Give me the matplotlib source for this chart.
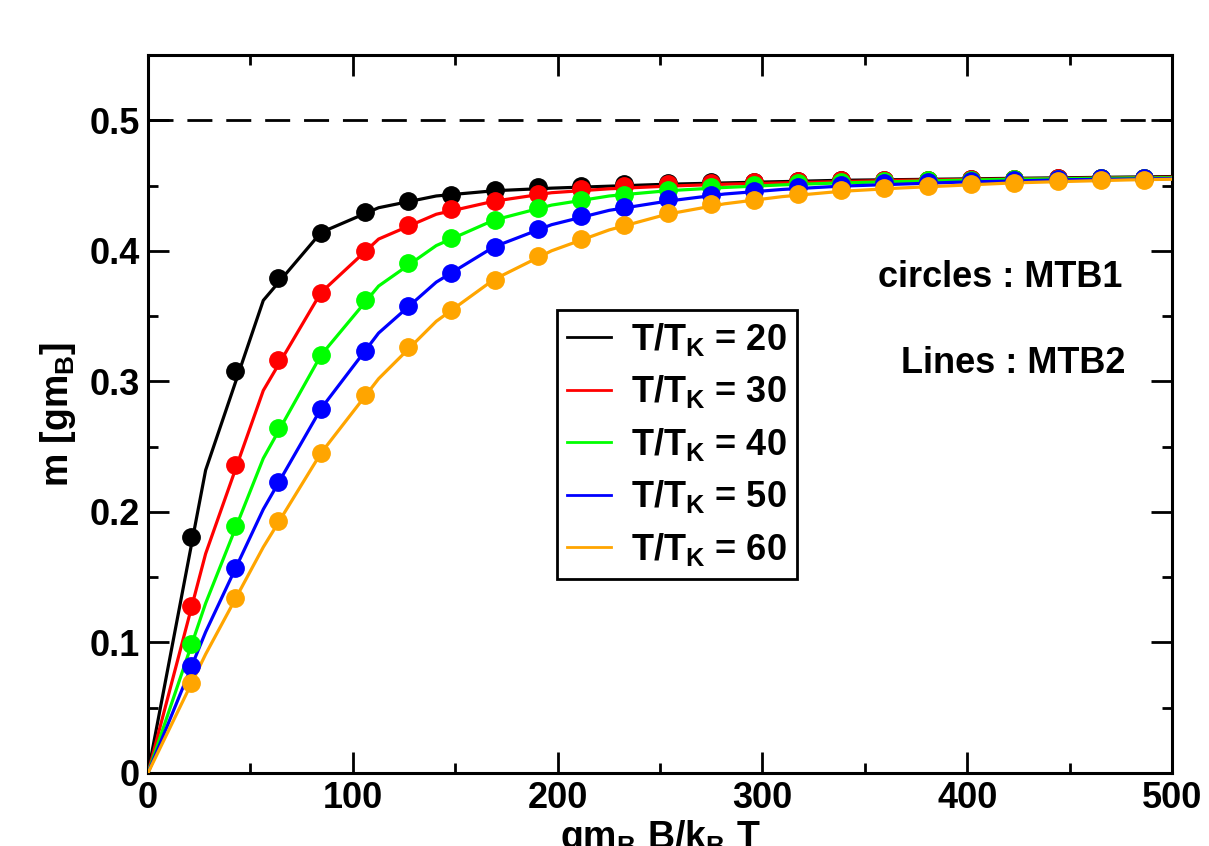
import matplotlib
matplotlib.use("Agg")
import matplotlib.pyplot as plt
from matplotlib.ticker import MultipleLocator

plt.rcParams['font.family'] = ['Liberation Sans', 'DejaVu Sans']
plt.rcParams['font.weight'] = 'bold'
plt.rcParams['mathtext.fontset'] = 'custom'
plt.rcParams['mathtext.rm'] = 'Liberation Sans:bold'
plt.rcParams['mathtext.it'] = 'Liberation Sans:bold'
plt.rcParams['mathtext.bf'] = 'Liberation Sans:bold'
plt.rcParams['mathtext.sf'] = 'Liberation Sans'
plt.rcParams['mathtext.default'] = 'rm'

# ---- data ----
labels = ["T/T$_\\mathrm{K}$ = 20", "T/T$_\\mathrm{K}$ = 30", "T/T$_\\mathrm{K}$ = 40",
          "T/T$_\\mathrm{K}$ = 50", "T/T$_\\mathrm{K}$ = 60"]
colors = ["#000000", "#ff0000", "#00ff00", "#0000ff", "#ffa500"]

# circles : MTB1
x_circ = [21.15, 42.3, 63.45, 84.6, 105.75, 126.9, 148.05, 169.2, 190.35, 211.5, 232.65, 253.8,
          274.95, 296.1, 317.25, 338.4, 359.55, 380.7, 401.85, 423.0, 444.15, 465.3, 486.45]
m_circ_20 = [0.181, 0.308, 0.379, 0.414, 0.430, 0.438, 0.443, 0.4465, 0.4485, 0.450, 0.451, 0.452,
             0.4525, 0.453, 0.4535, 0.454, 0.4543, 0.4546, 0.4549, 0.4552, 0.4555, 0.4558, 0.456]
m_circ_30 = [0.128, 0.236, 0.316, 0.368, 0.400, 0.420, 0.432, 0.438, 0.4435, 0.447, 0.4495, 0.451,
             0.452, 0.4528, 0.4535, 0.454, 0.4543, 0.4546, 0.4549, 0.4552, 0.4555, 0.4558, 0.456]
m_circ_40 = [0.099, 0.189, 0.264, 0.320, 0.362, 0.391, 0.410, 0.4235, 0.4325, 0.439, 0.443, 0.4465,
             0.449, 0.4505, 0.452, 0.453, 0.4537, 0.4542, 0.4546, 0.455, 0.4553, 0.4556, 0.4558]
m_circ_50 = [0.082, 0.157, 0.223, 0.279, 0.323, 0.358, 0.383, 0.403, 0.4165, 0.4265, 0.4335, 0.4394,
             0.443, 0.446, 0.4485, 0.4505, 0.452, 0.453, 0.4538, 0.4545, 0.455, 0.4554, 0.4557]
m_circ_60 = [0.069, 0.134, 0.193, 0.245, 0.2895, 0.326, 0.355, 0.378, 0.396, 0.409, 0.420, 0.4287,
             0.4355, 0.4393, 0.4432, 0.4462, 0.4482, 0.4495, 0.4508, 0.452, 0.4534, 0.4541, 0.4546]

# lines : MTB2
x_line = [0.0, 28.15, 56.3, 84.45, 112.6, 140.75, 168.9, 197.05, 225.2, 253.35, 281.5, 309.65,
          337.8, 365.95, 394.1, 422.25, 450.4, 478.55, 506.7]
m_line_20 = [0.0, 0.232, 0.362, 0.414, 0.433, 0.442, 0.446, 0.448, 0.4495, 0.451, 0.452, 0.453,
             0.454, 0.4545, 0.455, 0.4555, 0.456, 0.4565, 0.457]
m_line_30 = [0.0, 0.168, 0.293, 0.368, 0.409, 0.428, 0.438, 0.4445, 0.4475, 0.4495, 0.451, 0.452,
             0.453, 0.454, 0.4545, 0.455, 0.4555, 0.456, 0.4565]
m_line_40 = [0.0, 0.130, 0.241, 0.320, 0.373, 0.404, 0.4235, 0.435, 0.442, 0.446, 0.4485, 0.4505,
             0.452, 0.453, 0.454, 0.4548, 0.4553, 0.4558, 0.456]
m_line_50 = [0.0, 0.108, 0.202, 0.279, 0.337, 0.376, 0.403, 0.420, 0.431, 0.438, 0.4435, 0.447,
             0.4495, 0.451, 0.4525, 0.4535, 0.4545, 0.455, 0.4555]
m_line_60 = [0.0, 0.091, 0.173, 0.245, 0.302, 0.346, 0.378, 0.400, 0.416, 0.428, 0.436, 0.4415,
             0.4455, 0.448, 0.450, 0.452, 0.4532, 0.4543, 0.455]

m_circ = [m_circ_20, m_circ_30, m_circ_40, m_circ_50, m_circ_60]
m_line = [m_line_20, m_line_30, m_line_40, m_line_50, m_line_60]

fig = plt.figure(figsize=(12.09, 8.46), dpi=100)
ax = fig.add_axes([0.1224, 0.0863, 0.847, 0.8487])

ax.axhline(0.5, color='black', lw=2, dashes=(9, 5))

handles = []
for mc, ml, c, lab in zip(m_circ, m_line, colors, labels):
    h, = ax.plot(x_line, ml, color=c, lw=2.3, label=lab, zorder=3)
    ax.plot(x_circ, mc, 'o', color=c, ms=12.5, zorder=4)
    handles.append(h)

ax.set_xlim(0, 500)
ax.set_ylim(0, 0.55)
ax.xaxis.set_minor_locator(MultipleLocator(50))
ax.yaxis.set_minor_locator(MultipleLocator(0.05))
ax.set_xticks([0, 100, 200, 300, 400, 500])
ax.set_xticklabels(['0', '100', '200', '300', '400', '500'])
ax.set_yticks([0, 0.1, 0.2, 0.3, 0.4, 0.5])
ax.set_yticklabels(['0', '0.1', '0.2', '0.3', '0.4', '0.5'])
ax.tick_params(which='both', direction='in', top=True, right=True, width=2, labelsize=26)
ax.tick_params(which='major', length=15, pad=6)
ax.tick_params(which='minor', length=7.5)
for sp in ax.spines.values():
    sp.set_linewidth(2.2)

ax.set_ylabel("m [g$\\mathsf{m}_\\mathrm{B}$]", fontsize=27, fontweight='bold', labelpad=8)
ax.set_xlabel("g$\\mathsf{m}_\\mathrm{B}$ B/k$_\\mathrm{B}$ T", fontsize=27, fontweight='bold', labelpad=1)

leg = ax.legend(handles=handles, loc='upper left', bbox_to_anchor=(0.399, 0.645),
                borderaxespad=0, fancybox=False, framealpha=1, edgecolor='black',
                fontsize=26, handlelength=1.2, handletextpad=0.55, labelspacing=0.43,
                borderpad=0.3)
leg.get_frame().set_linewidth(2)
for line in leg.get_lines():
    line.set_linewidth(2.0)

ax.text(0.952, 0.69, "circles : MTB1", transform=ax.transAxes, ha='right', va='center',
        fontsize=26, fontweight='bold')
ax.text(0.955, 0.57, "Lines : MTB2", transform=ax.transAxes, ha='right', va='center',
        fontsize=26, fontweight='bold')

fig.savefig("out.png", dpi=100)
